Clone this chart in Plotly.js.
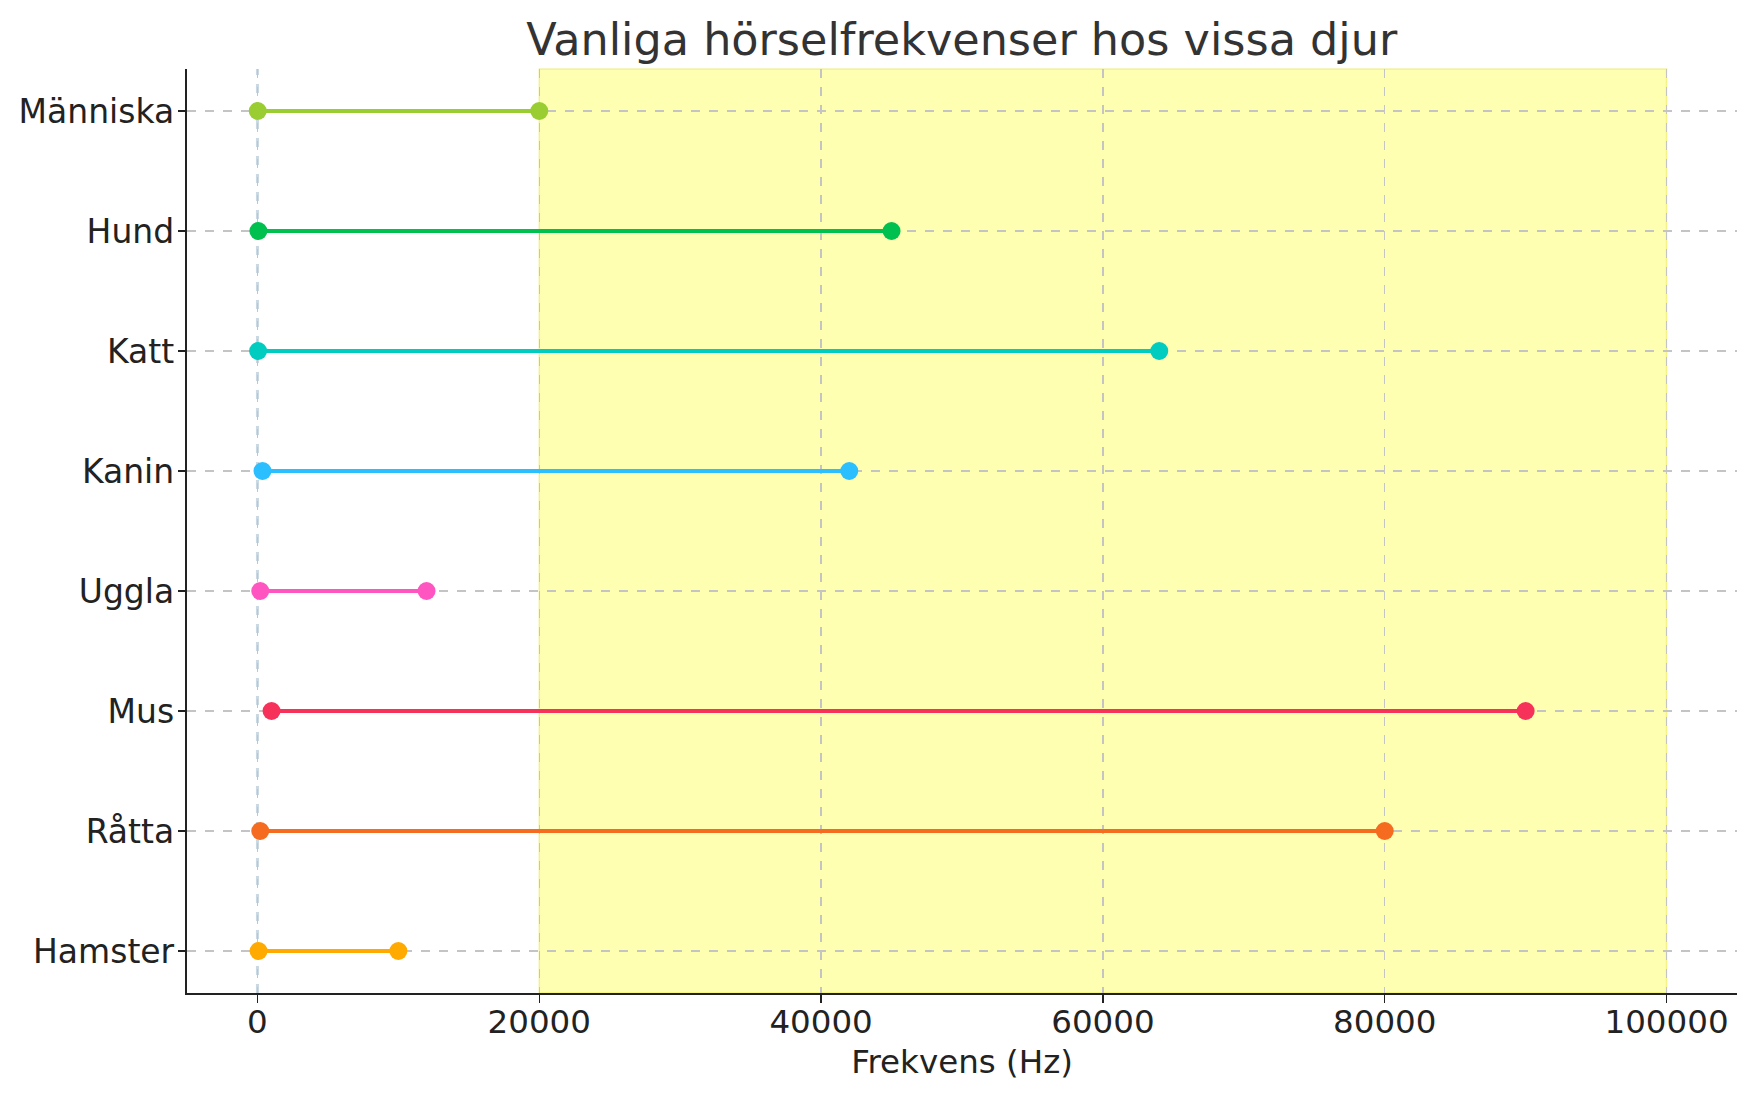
<!DOCTYPE html>
<html>
<head>
<meta charset="utf-8">
<script src="https://cdn.plot.ly/plotly-3.0.1.min.js"></script>
<style>html,body{margin:0;padding:0;background:#fff;}#chart{width:1756px;height:1101px;}</style>
</head>
<body>
<div id="chart"></div>
<script>
// Data (top to bottom in the picture)
const animals = ["Människa", "Hund", "Katt", "Kanin", "Uggla", "Mus", "Råtta", "Hamster"];
const lowHz  = [20, 67, 45, 360, 200, 1000, 200, 80];
const highHz = [20000, 45000, 64000, 42000, 12000, 90000, 80000, 10000];
const colors = ["#9ACD32", "#00C04F", "#00CCC0", "#2BBFFF", "#FF55C0", "#F7325A", "#F56B1F", "#FFAA00"];
const xTicks = [0, 20000, 40000, 60000, 80000, 100000];
const ultrasoundBand = [20000, 100000];

const traces = animals.map((a, i) => ({
  type: "scatter",
  mode: "lines+markers",
  x: [lowHz[i], highHz[i]],
  y: [a, a],
  line: {color: colors[i], width: 4.2},
  marker: {color: colors[i], size: 18},
  showlegend: false,
  cliponaxis: false
}));

const catOrder = animals.slice().reverse();

const layout = {
  width: 1756, height: 1101,
  margin: {l: 187, r: 19, t: 69, b: 108},
  paper_bgcolor: "#ffffff",
  plot_bgcolor: "rgba(0,0,0,0)",
  font: {family: "DejaVu Sans", color: "#222", size: 33},
  title: {
    text: "Vanliga hörselfrekvenser hos vissa djur",
    font: {family: "DejaVu Sans", size: 44.5, color: "#333"},
    x: 0.5477, xanchor: "center", y: 0.964, yanchor: "middle"
  },
  xaxis: {
    range: [-5000, 105000],
    tickvals: xTicks,
    ticktext: xTicks.map(String),
    showline: true, linecolor: "#222", linewidth: 2.2,
    mirror: false,
    ticks: "outside", ticklen: 8, tickwidth: 1.5, tickcolor: "#222",
    ticklabelstandoff: -9,
    showgrid: true, gridcolor: "#c4c4c4", griddash: "dash", gridwidth: 1.2,
    zeroline: false,
    tickfont: {size: 32.5, color: "#222"},
    title: {text: "Frekvens (Hz)", font: {size: 32.5, color: "#222"}, standoff: 10}
  },
  yaxis: {
    type: "category",
    categoryorder: "array", categoryarray: catOrder,
    range: [-0.35, 7.35],
    showline: true, linecolor: "#222", linewidth: 2.2,
    ticks: "outside", ticklen: 7, tickwidth: 1.5, tickcolor: "#222",
    ticklabelstandoff: -3,
    showgrid: true, gridcolor: "#c4c4c4", griddash: "dash", gridwidth: 1.2,
    zeroline: false,
    tickfont: {size: 33, color: "#222"}
  },
  shapes: [
    {type: "rect", xref: "x", yref: "paper", x0: ultrasoundBand[0], x1: ultrasoundBand[1], y0: 0, y1: 1,
     fillcolor: "rgba(255,255,0,0.3)", line: {color: "rgba(220,220,0,0.35)", width: 1.5}, layer: "below"},
    {type: "line", xref: "x", yref: "paper", x0: 0, x1: 0, y0: 0, y1: 1,
     line: {color: "#c9d8e2", width: 3, dash: "dash"}, layer: "below"}
  ]
};

Plotly.newPlot("chart", traces, layout, {displayModeBar: false, staticPlot: true});
</script>
</body>
</html>
